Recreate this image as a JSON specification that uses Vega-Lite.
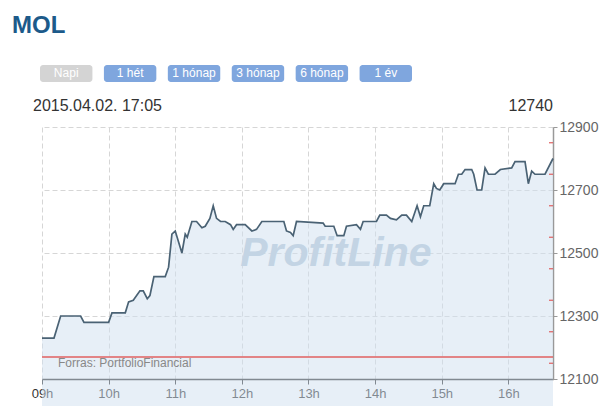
{
  "$schema": "https://vega.github.io/schema/vega-lite/v6.json",
  "background": "white",
  "width": 511,
  "height": 252,
  "autosize": {"type": "none"},
  "padding": {"left": 42, "top": 127, "right": 55, "bottom": 27},
  "config": {"view": {"stroke": null}, "axisY": {"labelOverlap": false}},
  "resolve": {"scale": {"x": "independent"}},
  "layer": [
    {
      "data": {
        "values": [
          {"h": 9.0, "p": 12230},
          {"h": 9.18, "p": 12230},
          {"h": 9.28, "p": 12300},
          {"h": 9.58, "p": 12300},
          {"h": 9.63, "p": 12280},
          {"h": 10.0, "p": 12280},
          {"h": 10.05, "p": 12310},
          {"h": 10.25, "p": 12310},
          {"h": 10.3, "p": 12345},
          {"h": 10.37, "p": 12350},
          {"h": 10.47, "p": 12380},
          {"h": 10.52, "p": 12380},
          {"h": 10.58, "p": 12355},
          {"h": 10.62, "p": 12365},
          {"h": 10.68, "p": 12425},
          {"h": 10.85, "p": 12425},
          {"h": 10.9, "p": 12455},
          {"h": 10.95, "p": 12560},
          {"h": 11.0, "p": 12570},
          {"h": 11.1, "p": 12500},
          {"h": 11.15, "p": 12560},
          {"h": 11.18, "p": 12550},
          {"h": 11.25, "p": 12600},
          {"h": 11.32, "p": 12600},
          {"h": 11.4, "p": 12580},
          {"h": 11.45, "p": 12585},
          {"h": 11.52, "p": 12610},
          {"h": 11.57, "p": 12650},
          {"h": 11.62, "p": 12610},
          {"h": 11.68, "p": 12600},
          {"h": 11.75, "p": 12600},
          {"h": 11.83, "p": 12590},
          {"h": 11.87, "p": 12575},
          {"h": 11.92, "p": 12590},
          {"h": 12.05, "p": 12590},
          {"h": 12.15, "p": 12570},
          {"h": 12.22, "p": 12575},
          {"h": 12.3, "p": 12600},
          {"h": 12.63, "p": 12600},
          {"h": 12.67, "p": 12570},
          {"h": 12.73, "p": 12565},
          {"h": 12.77, "p": 12555},
          {"h": 12.82, "p": 12600},
          {"h": 13.22, "p": 12595},
          {"h": 13.25, "p": 12585},
          {"h": 13.38, "p": 12585},
          {"h": 13.43, "p": 12555},
          {"h": 13.53, "p": 12555},
          {"h": 13.57, "p": 12585},
          {"h": 13.72, "p": 12590},
          {"h": 13.78, "p": 12575},
          {"h": 13.82, "p": 12600},
          {"h": 14.02, "p": 12600},
          {"h": 14.07, "p": 12620},
          {"h": 14.17, "p": 12620},
          {"h": 14.23, "p": 12610},
          {"h": 14.32, "p": 12605},
          {"h": 14.4, "p": 12620},
          {"h": 14.47, "p": 12620},
          {"h": 14.55, "p": 12600},
          {"h": 14.63, "p": 12650},
          {"h": 14.68, "p": 12615},
          {"h": 14.73, "p": 12650},
          {"h": 14.82, "p": 12650},
          {"h": 14.88, "p": 12720},
          {"h": 14.92, "p": 12705},
          {"h": 14.97, "p": 12700},
          {"h": 15.03, "p": 12720},
          {"h": 15.2, "p": 12720},
          {"h": 15.25, "p": 12750},
          {"h": 15.3, "p": 12750},
          {"h": 15.35, "p": 12765},
          {"h": 15.45, "p": 12765},
          {"h": 15.48, "p": 12750},
          {"h": 15.53, "p": 12700},
          {"h": 15.6, "p": 12700},
          {"h": 15.65, "p": 12770},
          {"h": 15.7, "p": 12750},
          {"h": 15.8, "p": 12750},
          {"h": 15.88, "p": 12765},
          {"h": 16.05, "p": 12770},
          {"h": 16.1, "p": 12790},
          {"h": 16.25, "p": 12790},
          {"h": 16.3, "p": 12720},
          {"h": 16.35, "p": 12760},
          {"h": 16.4, "p": 12750},
          {"h": 16.55, "p": 12750},
          {"h": 16.67, "p": 12800}
        ]
      },
      "layer": [
        {
          "mark": {"type": "area", "color": "#cfdff0", "opacity": 0.5},
          "encoding": {
            "x": {
              "field": "h",
              "type": "quantitative",
              "scale": {"domain": [9, 16.67], "nice": false, "zero": false},
              "axis": {
                "title": null,
                "values": [9, 10, 11, 12, 13, 14, 15, 16],
                "labelExpr": "(datum.value < 10 ? '0' : '') + datum.value + 'h'",
                "labelFlush": false,
                "labelFont": "Liberation Sans",
                "labelFontSize": 13,
                "labelColor": "#333",
                "labelPadding": 3,
                "domainColor": "#333",
                "domainWidth": 1.5,
                "tickColor": "#333",
                "tickSize": 5,
                "gridColor": "#d6d6d6",
                "gridDash": [5, 3]
              }
            },
            "y": {
              "field": "p",
              "type": "quantitative",
              "scale": {"domain": [12100, 12900], "zero": false, "nice": false},
              "axis": {
                "orient": "right",
                "title": null,
                "values": [12100, 12200, 12300, 12400, 12500, 12600, 12700, 12800, 12900],
                "format": "d",
                "labelOverlap": false,
                "labelFont": "Liberation Sans",
                "labelFontSize": 14,
                "labelColor": "#666",
                "labelPadding": 2,
                "domainColor": "#999",
                "domainWidth": 1.5,
                "tickColor": "#999",
                "tickSize": 4,
                "gridColor": "#d6d6d6",
                "gridDash": [5, 3]
              }
            }
          }
        },
        {
          "data": {"values": [{}]},
          "mark": {
            "type": "text",
            "text": "ProfitLine",
            "font": "Liberation Sans",
            "fontSize": 41,
            "fontWeight": "bold",
            "fontStyle": "italic",
            "color": "#c3d4e4",
            "align": "center",
            "baseline": "middle"
          },
          "encoding": {
            "x": {"datum": 13.41, "type": "quantitative"},
            "y": {"datum": 12497, "type": "quantitative"}
          }
        },
        {
          "data": {"values": [{}]},
          "mark": {"type": "rule", "color": "#e06060", "strokeWidth": 1.5},
          "encoding": {
            "y": {"datum": 12170, "type": "quantitative"}
          }
        },
        {
          "data": {"values": [{"v": 12150}, {"v": 12250}, {"v": 12350}, {"v": 12450}, {"v": 12550}, {"v": 12650}, {"v": 12750}, {"v": 12850}]},
          "mark": {"type": "rule", "color": "#e06060", "strokeWidth": 1.2},
          "encoding": {
            "x": {"datum": 16.61, "type": "quantitative"},
            "x2": {"datum": 16.67},
            "y": {"field": "v", "type": "quantitative"}
          }
        },
        {
          "data": {"values": [{}]},
          "mark": {
            "type": "text",
            "text": "Forras: PortfolioFinancial",
            "font": "Liberation Sans",
            "fontSize": 12,
            "color": "#888",
            "align": "left",
            "baseline": "middle"
          },
          "encoding": {
            "x": {"datum": 9.24, "type": "quantitative"},
            "y": {"datum": 12150, "type": "quantitative"}
          }
        },
        {
          "mark": {"type": "line", "color": "#4a6274", "strokeWidth": 1.7},
          "encoding": {
            "x": {"field": "h", "type": "quantitative"},
            "y": {
              "field": "p",
              "type": "quantitative",
              "axis": {
                "orient": "right",
                "title": null,
                "values": [12100, 12200, 12300, 12400, 12500, 12600, 12700, 12800, 12900],
                "format": "d",
                "labelOverlap": false,
                "labelFont": "Liberation Sans",
                "labelFontSize": 14,
                "labelColor": "#666",
                "labelPadding": 2,
                "domainColor": "#999",
                "domainWidth": 1.5,
                "tickColor": "#999",
                "tickSize": 4,
                "gridColor": "#d6d6d6",
                "gridDash": [5, 3]
              }
            }
          }
        },
        {
          "data": {"values": [{}]},
          "mark": {
            "type": "text",
            "text": "MOL",
            "font": "Liberation Sans",
            "fontSize": 24,
            "fontWeight": "bold",
            "color": "#1c5a8a",
            "align": "left",
            "baseline": "alphabetic",
            "dx": -30
          },
          "encoding": {
            "x": {"datum": 9, "type": "quantitative"},
            "y": {"datum": 13200, "type": "quantitative"}
          }
        },
        {
          "data": {"values": [{}]},
          "mark": {
            "type": "text",
            "text": "2015.04.02. 17:05",
            "font": "Liberation Sans",
            "fontSize": 16,
            "color": "#333",
            "align": "left",
            "baseline": "alphabetic",
            "dx": -9
          },
          "encoding": {
            "x": {"datum": 9, "type": "quantitative"},
            "y": {"datum": 12951, "type": "quantitative"}
          }
        },
        {
          "data": {"values": [{}]},
          "mark": {
            "type": "text",
            "text": "12740",
            "font": "Liberation Sans",
            "fontSize": 16,
            "color": "#333",
            "align": "right",
            "baseline": "alphabetic"
          },
          "encoding": {
            "x": {"datum": 16.67, "type": "quantitative"},
            "y": {"datum": 12951, "type": "quantitative"}
          }
        }
      ]
    },
    {
      "data": {
        "values": [
          {"label": "Napi", "state": "aktiv"},
          {"label": "1 hét", "state": "link"},
          {"label": "1 hónap", "state": "link"},
          {"label": "3 hónap", "state": "link"},
          {"label": "6 hónap", "state": "link"},
          {"label": "1 év", "state": "link"}
        ]
      },
      "layer": [
        {
          "mark": {"type": "bar", "cornerRadius": 3},
          "encoding": {
            "x": {
              "field": "label",
              "type": "nominal",
              "sort": null,
              "scale": {"range": [-2, 370], "paddingInner": 0.18, "paddingOuter": 0},
              "axis": null
            },
            "y": {
              "datum": 13097,
              "type": "quantitative",
              "axis": {
                "orient": "right",
                "title": null,
                "values": [12100, 12200, 12300, 12400, 12500, 12600, 12700, 12800, 12900],
                "format": "d",
                "labelOverlap": false,
                "labelFont": "Liberation Sans",
                "labelFontSize": 14,
                "labelColor": "#666",
                "labelPadding": 2,
                "domainColor": "#999",
                "domainWidth": 1.5,
                "tickColor": "#999",
                "tickSize": 4,
                "gridColor": "#d6d6d6",
                "gridDash": [5, 3]
              }
            },
            "y2": {"datum": 13043},
            "color": {
              "field": "state",
              "type": "nominal",
              "scale": {"domain": ["aktiv", "link"], "range": ["#d4d4d4", "#7fa6de"]},
              "legend": null
            }
          }
        },
        {
          "mark": {
            "type": "text",
            "color": "white",
            "font": "Liberation Sans Narrow, Liberation Sans",
            "fontSize": 12,
            "baseline": "middle"
          },
          "encoding": {
            "x": {"field": "label", "type": "nominal", "sort": null},
            "y": {"datum": 13070, "type": "quantitative"},
            "text": {"field": "label"}
          }
        }
      ]
    }
  ]
}
